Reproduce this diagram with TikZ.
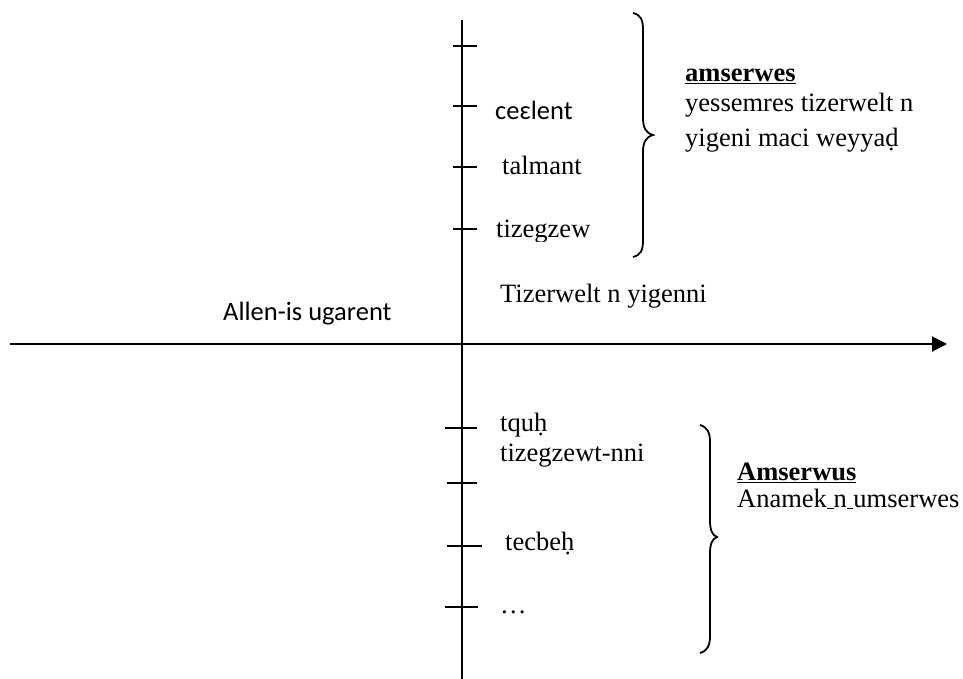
\documentclass[tikz,border=0pt]{standalone}
\usepackage{fontspec}
\setmainfont{Liberation Serif}
\newfontfamily\calib{Carlito}
\usetikzlibrary{arrows.meta}
\tikzset{
  ax/.style={line width=2pt},
  tk/.style={line width=1.8pt},
  br/.style={line width=1.8pt},
  lbl/.style={anchor=base west, inner sep=0pt, font=\fontsize{26.5}{30}\selectfont},
  clbl/.style={anchor=base west, inner sep=0pt, font=\calib\fontsize{26.5}{30}\selectfont},
}
\begin{document}
\begin{tikzpicture}[x=1pt,y=-1pt]
\useasboundingbox (0,0) rectangle (963,679);
% axes
\coordinate (hl) at (10,344);
\coordinate (hr) at (947,344);
\coordinate (vt) at (462,20);
\coordinate (vb) at (462,679);
\draw[ax,-{Triangle[length=15pt,width=15pt]}] (hl) -- (hr);
\draw[ax] (vt) -- (vb);
% upper ticks
\foreach \y in {46,106,167,229} \draw[tk] (453,\y) -- (477,\y);
% lower ticks
\draw[tk] (445,428) -- (477,428);
\draw[tk] (447,483) -- (477,483);
\draw[tk] (447,546) -- (482,546);
\draw[tk] (445,607) -- (478,607);
% upper labels
\node[clbl] (cel) at (495,120) {ceɛlent};
\node[lbl] (tal) at (502,175) {talmant};
\begin{scope}
\clip (480,200) rectangle (640,241);
\node[lbl] (tiz) at (496,237) {tizegzew};
\end{scope}
\node[lbl] (tzy) at (500,302) {Tizerwelt n yigenni};
\node[clbl] (all) at (223,320) {Allen-is ugarent};
% upper brace
\draw[br] (633,13) .. controls (641,15) and (643,20) .. (643,30) -- (643,118)
  .. controls (643,128) and (646,133) .. (653,135)
  .. controls (646,137) and (643,142) .. (643,152) -- (643,240)
  .. controls (643,250) and (641,255) .. (633,257);
\node[lbl, font=\bfseries\fontsize{26.5}{30}\selectfont] (ams) at (685,82) {\underline{amserwes}};
\node[lbl] (yes) at (685,112) {yessemres tizerwelt n};
\node[lbl] (yig) at (685,147) {yigeni maci weyyaḍ};
% lower labels
\node[lbl] (tqu) at (500,431) {tquḥ};
\node[lbl] (tzn) at (500,461) {tizegzewt-nni};
\node[lbl] (tec) at (505,550) {tecbeḥ};
\node[lbl] (dots) at (500,613) {…};
% lower brace
\draw[br] (700,425) .. controls (707,427) and (710,432) .. (710,442) -- (710,520)
  .. controls (710,530) and (712,535) .. (717,537)
  .. controls (712,539) and (710,544) .. (710,554) -- (710,636)
  .. controls (710,646) and (707,651) .. (700,653);
\node[lbl, font=\bfseries\fontsize{26.5}{30}\selectfont] (amw) at (737,480) {\underline{Amserwus}};
\node[lbl] (ana) at (737,507) {Anamek\underline{ }n\underline{ }umserwes};
\end{tikzpicture}
\end{document}
